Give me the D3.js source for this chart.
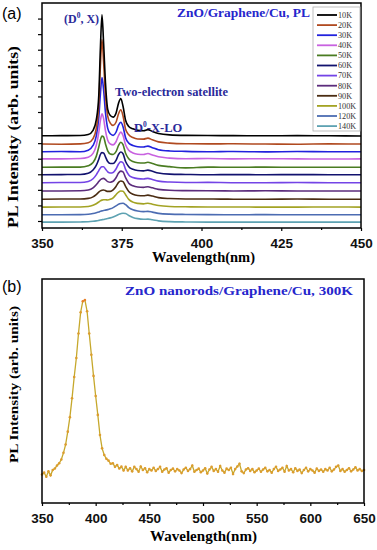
<!DOCTYPE html>
<html>
<head>
<meta charset="utf-8">
<script src="https://cdn.jsdelivr.net/npm/d3@7"></script>
<style>
  body { margin: 0; background: #fff; }
  svg { display: block; }
</style>
</head>
<body>
<svg id="chart" width="377" height="550"></svg>
<script>
// ---- Panel (a): low temperature PL, spectra stacked as plotted ----
const wavelengthsA = [350, 356, 362, 364.5, 366, 367, 367.8, 368.3, 368.8, 369.3, 369.9, 370.6,
  371.4, 372.3, 373.2, 374.0, 374.7, 375.4, 376.2, 377.2, 378.5, 380, 381.8, 383.2, 384.6, 386.5,
  390, 395, 402, 410, 420, 430, 440, 450];

const temps = ["10K", "20K", "30K", "40K", "50K", "60K", "70K", "80K", "90K", "100K", "120K", "140K"];
const tempColors = ["#000000", "#b04a20", "#2222dd", "#c862e0", "#4a7c22", "#12126e",
  "#7444e6", "#5c2c7c", "#4a2c12", "#a3a324", "#4c6cb2", "#5ea2b2"];

const pl10K = [5.47, 5.48, 5.49, 5.55, 5.82, 6.47, 8.07, 11.07, 13.24, 11.47, 8.87, 7.17, 6.77, 6.67, 6.92, 7.57, 7.87, 7.37, 6.47, 6.07, 5.92, 5.82, 5.80, 5.87, 5.75, 5.62, 5.53, 5.50, 5.49, 5.48, 5.47, 5.48, 5.47, 5.46];
const pl20K = [4.94, 4.93, 4.95, 5.02, 5.29, 5.94, 7.44, 9.94, 11.65, 10.24, 8.04, 6.74, 6.29, 6.14, 6.34, 6.89, 7.14, 6.74, 5.89, 5.54, 5.36, 5.27, 5.26, 5.32, 5.21, 5.08, 5.00, 4.96, 4.95, 4.96, 4.94, 4.93, 4.95, 4.94];
const pl30K = [4.45, 4.46, 4.45, 4.55, 4.85, 5.45, 6.65, 8.15, 9.21, 8.45, 6.95, 5.95, 5.60, 5.50, 5.70, 6.15, 6.34, 6.05, 5.35, 5.00, 4.85, 4.77, 4.75, 4.81, 4.71, 4.58, 4.50, 4.47, 4.45, 4.46, 4.44, 4.46, 4.45, 4.45];
const pl40K = [3.99, 3.99, 4.01, 4.09, 4.34, 4.84, 5.69, 6.44, 6.88, 6.59, 5.79, 5.19, 4.94, 4.89, 5.09, 5.49, 5.71, 5.49, 4.89, 4.54, 4.37, 4.29, 4.27, 4.33, 4.24, 4.12, 4.04, 4.00, 4.01, 3.99, 4.00, 3.99, 3.98, 3.99];
const pl50K = [3.45, 3.46, 3.46, 3.55, 3.75, 4.15, 4.75, 5.20, 5.45, 5.40, 4.95, 4.50, 4.30, 4.27, 4.45, 4.85, 5.06, 4.90, 4.35, 4.00, 3.82, 3.74, 3.72, 3.77, 3.69, 3.57, 3.49, 3.41, 3.46, 3.45, 3.46, 3.45, 3.45, 3.45];
const pl60K = [2.97, 2.98, 2.99, 3.07, 3.27, 3.57, 3.97, 4.27, 4.39, 4.37, 4.12, 3.82, 3.69, 3.69, 3.89, 4.27, 4.43, 4.32, 3.82, 3.49, 3.32, 3.24, 3.22, 3.27, 3.19, 3.08, 3.01, 2.99, 2.97, 2.98, 2.97, 2.98, 2.97, 2.97];
const pl70K = [2.46, 2.47, 2.47, 2.54, 2.71, 2.96, 3.24, 3.41, 3.48, 3.48, 3.34, 3.16, 3.08, 3.12, 3.34, 3.66, 3.80, 3.74, 3.31, 2.96, 2.79, 2.72, 2.70, 2.74, 2.66, 2.56, 2.50, 2.47, 2.48, 2.46, 2.46, 2.47, 2.46, 2.46];
const pl80K = [1.93, 1.93, 1.94, 1.99, 2.13, 2.33, 2.53, 2.65, 2.72, 2.74, 2.65, 2.53, 2.49, 2.55, 2.78, 3.08, 3.20, 3.15, 2.78, 2.43, 2.26, 2.18, 2.16, 2.20, 2.13, 2.03, 1.97, 1.95, 1.94, 1.93, 1.94, 1.93, 1.93, 1.93];
const pl90K = [1.40, 1.41, 1.41, 1.45, 1.55, 1.70, 1.85, 1.93, 1.98, 1.99, 1.95, 1.90, 1.90, 2.00, 2.22, 2.48, 2.57, 2.53, 2.22, 1.90, 1.72, 1.64, 1.62, 1.66, 1.60, 1.50, 1.44, 1.41, 1.41, 1.40, 1.40, 1.41, 1.40, 1.40];
const pl100K = [0.89, 0.90, 0.90, 0.93, 1.01, 1.11, 1.22, 1.29, 1.34, 1.36, 1.36, 1.35, 1.39, 1.49, 1.69, 1.86, 1.93, 1.91, 1.69, 1.39, 1.21, 1.13, 1.10, 1.14, 1.08, 0.99, 0.93, 0.91, 0.90, 0.90, 0.89, 0.89, 0.90, 0.89];
const pl120K = [0.40, 0.40, 0.41, 0.43, 0.48, 0.53, 0.58, 0.62, 0.65, 0.68, 0.70, 0.73, 0.78, 0.86, 0.97, 1.07, 1.12, 1.14, 1.05, 0.86, 0.72, 0.64, 0.60, 0.62, 0.57, 0.49, 0.44, 0.42, 0.41, 0.40, 0.41, 0.40, 0.40, 0.40];
const pl140K = [-0.07, -0.07, -0.06, -0.05, -0.02, 0.01, 0.04, 0.06, 0.08, 0.10, 0.13, 0.16, 0.20, 0.26, 0.34, 0.42, 0.47, 0.50, 0.48, 0.35, 0.23, 0.15, 0.11, 0.12, 0.08, 0.01, -0.04, -0.06, -0.07, -0.07, -0.07, -0.07, -0.07, -0.07];

const seriesA = [pl10K, pl20K, pl30K, pl40K, pl50K, pl60K, pl70K, pl80K, pl90K, pl100K, pl120K, pl140K];

const xTicksA = [350, 375, 400, 425, 450];
const xMinorA = [362.5, 387.5, 412.5, 437.5];

// ---- Panel (b): room temperature PL, 2 nm sampling from 350 nm ----
const wlStartB = 350;
const wlStepB = 2;
const pl300K = [
  1.28, 1.36, 1.18, 1.42, 1.24, 1.48, 1.55, 1.68, 1.78, 1.95,
  2.25, 2.62, 3.20, 3.85, 4.70, 5.65, 6.50, 7.60, 8.55, 9.05,
  9.10, 8.60, 7.60, 6.65, 5.70, 4.80, 3.95, 3.05, 2.45, 2.15,
  1.98, 1.90, 1.76, 1.78, 1.62, 1.70, 1.55, 1.63, 1.46, 1.62,
  1.46, 1.56, 1.42, 1.62, 1.52, 1.40, 1.64, 1.48, 1.56, 1.38,
  1.52, 1.46, 1.58, 1.44, 1.52, 1.62, 1.40, 1.50, 1.56, 1.36,
  1.48, 1.54, 1.42, 1.52, 1.46, 1.34, 1.50, 1.58, 1.44, 1.52,
  1.68, 1.40, 1.48, 1.54, 1.38, 1.46, 1.56, 1.32, 1.50, 1.62,
  1.44, 1.52, 1.40, 1.66, 1.46, 1.36, 1.54, 1.48, 1.58, 1.30,
  1.52, 1.64, 1.76, 1.42, 1.34, 1.50, 1.56, 1.44, 1.52, 1.38,
  1.46, 1.54, 1.40, 1.50, 1.58, 1.42, 1.48, 1.36, 1.52, 1.62,
  1.44, 1.50, 1.58, 1.40, 1.66, 1.46, 1.52, 1.38, 1.56, 1.44,
  1.50, 1.34, 1.48, 1.58, 1.42, 1.52, 1.46, 1.36, 1.54, 1.44,
  1.50, 1.40, 1.52, 1.46, 1.58, 1.42, 1.50, 1.62, 1.68, 1.44,
  1.52, 1.40, 1.48, 1.56, 1.42, 1.50, 1.60, 1.46, 1.52, 1.44,
  1.48
];

const xTicksB = [350, 400, 450, 500, 550, 600, 650];
const xMinorB = [375, 425, 475, 525, 575, 625];

const serif = "'Liberation Serif', 'Times New Roman', serif";
const sans = "'Liberation Sans', Arial, sans-serif";
const blue = "#2626cc";
const annotBlue = "#2a2a9a";

const svg = d3.select("#chart");

// Helper: draw bottom axis with major labelled ticks + minor ticks
function drawXAxis(g, x, major, minor, y0) {
  const ax = g.append("g").attr("transform", `translate(0,${y0})`)
    .call(d3.axisBottom(x).tickValues(major).tickSize(3).tickFormat(d3.format("d")));
  ax.select(".domain").remove();
  ax.selectAll("line").attr("stroke", "#000").attr("stroke-width", 1.2);
  ax.selectAll("text")
    .attr("font-family", sans)
    .attr("font-weight", "bold")
    .attr("font-size", 13.5)
    .attr("fill", "#111")
    .attr("dy", "1.0em");
  const mn = g.append("g").attr("transform", `translate(0,${y0})`)
    .call(d3.axisBottom(x).tickValues(minor).tickSize(2).tickFormat(""));
  mn.select(".domain").remove();
  mn.selectAll("line").attr("stroke", "#000").attr("stroke-width", 1.2);
}

// Helper: bold serif label stretched to the width it has in the figure
function label(g, txt, x, y, len, size, color) {
  return g.append("text")
    .attr("x", x).attr("y", y)
    .attr("font-family", serif).attr("font-weight", "bold").attr("font-size", size)
    .attr("fill", color || "#000")
    .attr("textLength", len)
    .attr("lengthAdjust", "spacingAndGlyphs")
    .text(txt);
}

// ================= Panel (a) =================
const xA = d3.scaleLinear().domain([350, 450]).range([42, 361]);
const yA = d3.scaleLinear().domain([-0.45, 14.0]).range([228, 3]);

const gA = svg.append("g");

const lineA = d3.line()
  .x((d, i) => xA(wavelengthsA[i]))
  .y((d) => yA(d))
  .curve(d3.curveMonotoneX);

// draw warm curves last-to-first so the 10K trace sits on top
for (let s = seriesA.length - 1; s >= 0; s--) {
  gA.append("path")
    .datum(seriesA[s])
    .attr("d", lineA)
    .attr("fill", "none")
    .attr("stroke", tempColors[s])
    .attr("stroke-width", 1.6);
}

// y ticks (unlabelled)
const yAxA = gA.append("g").attr("transform", `translate(42,0)`)
  .call(d3.axisLeft(yA).tickValues(d3.range(0, 14)).tickSize(4).tickFormat(""));
yAxA.select(".domain").remove();
yAxA.selectAll("line").attr("stroke", "#000").attr("stroke-width", 1.2);

drawXAxis(gA, xA, xTicksA, xMinorA, 228);

// frame
gA.append("rect")
  .attr("x", 42).attr("y", 3)
  .attr("width", 319).attr("height", 225)
  .attr("fill", "none")
  .attr("stroke", "#000")
  .attr("stroke-width", 1.5);

// legend
const leg = gA.append("g").attr("transform", "translate(313,7)");
leg.append("rect")
  .attr("width", 47).attr("height", 124)
  .attr("fill", "#fff")
  .attr("stroke", "#b0b0b0")
  .attr("stroke-width", 0.8);
temps.forEach((t, i) => {
  const yy = 8 + i * 10.1;
  leg.append("line")
    .attr("x1", 4).attr("x2", 24)
    .attr("y1", yy).attr("y2", yy)
    .attr("stroke", tempColors[i])
    .attr("stroke-width", 1.8);
  leg.append("text")
    .attr("x", 25).attr("y", yy)
    .attr("dy", "0.35em")
    .attr("font-family", serif)
    .attr("font-size", 8.2)
    .attr("fill", "#333")
    .text(t);
});

// titles and peak annotations
label(gA, "ZnO/Graphene/Cu, PL", 177, 17, 133, 13, blue);

const d0x = gA.append("text")
  .attr("x", 64).attr("y", 23)
  .attr("font-family", serif).attr("font-weight", "bold").attr("font-size", 12)
  .attr("fill", annotBlue);
d0x.append("tspan").text("(D");
d0x.append("tspan").attr("dy", -5).attr("font-size", 7.5).text("0");
d0x.append("tspan").attr("dy", 5).text(", X)");

label(gA, "Two-electron satellite", 115, 96, 113, 12, annotBlue);

const dlo = gA.append("text")
  .attr("x", 134).attr("y", 132)
  .attr("font-family", serif).attr("font-weight", "bold").attr("font-size", 12.5)
  .attr("fill", annotBlue);
dlo.append("tspan").text("D");
dlo.append("tspan").attr("dy", -5).attr("font-size", 7.5).text("0");
dlo.append("tspan").attr("dy", 5).text("-X-LO");

label(gA, "Wavelength(nm)", 152, 262, 103, 14);

gA.append("text")
  .attr("transform", "translate(18,228) rotate(-90)")
  .attr("font-family", serif).attr("font-weight", "bold").attr("font-size", 14)
  .attr("textLength", 182)
  .attr("lengthAdjust", "spacingAndGlyphs")
  .text("PL Intensity (arb. units)");

gA.append("text")
  .attr("x", 2).attr("y", 19)
  .attr("font-family", sans).attr("font-size", 16)
  .text("(a)");

// ================= Panel (b) =================
const xB = d3.scaleLinear().domain([350, 650]).range([42, 364]);
const yB = d3.scaleLinear().domain([0, 10]).range([503, 280]);

const gB = svg.append("g");

const lineB = d3.line()
  .x((d, i) => xB(wlStartB + i * wlStepB))
  .y((d) => yB(d));

gB.append("path")
  .datum(pl300K)
  .attr("d", lineB)
  .attr("fill", "none")
  .attr("stroke", "#c6a82c")
  .attr("stroke-width", 1.3);

gB.selectAll("circle.pt")
  .data(pl300K)
  .enter()
  .append("circle")
  .attr("class", "pt")
  .attr("cx", (d, i) => xB(wlStartB + i * wlStepB))
  .attr("cy", (d) => yB(d))
  .attr("r", 1.3)
  .attr("fill", (d) => (d > 8.9 ? "#e8802a" : "#dc9c2e"));

drawXAxis(gB, xB, xTicksB, xMinorB, 503);

gB.append("rect")
  .attr("x", 42).attr("y", 279)
  .attr("width", 322).attr("height", 224)
  .attr("fill", "none")
  .attr("stroke", "#000")
  .attr("stroke-width", 1.5);

label(gB, "ZnO nanorods/Graphene/Cu, 300K", 125, 295, 228, 13.5, blue);

label(gB, "Wavelength(nm)", 150, 541, 107, 14);

gB.append("text")
  .attr("transform", "translate(18,463) rotate(-90)")
  .attr("font-family", serif).attr("font-weight", "bold").attr("font-size", 13)
  .attr("textLength", 157)
  .attr("lengthAdjust", "spacingAndGlyphs")
  .text("PL Intensity (arb. units)");

gB.append("text")
  .attr("x", 2).attr("y", 292)
  .attr("font-family", sans).attr("font-size", 16)
  .text("(b)");
</script>
</body>
</html>
